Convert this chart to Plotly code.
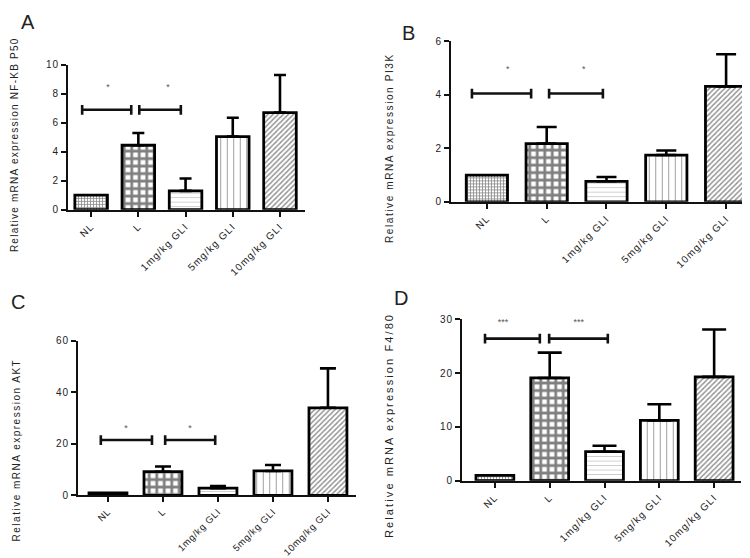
import plotly.graph_objects as go

W, H = 750, 558

categories = ["NL", "L", "1mg/kg GLI", "5mg/kg GLI", "10mg/kg GLI"]

# Panel A: NF-KB P50
a_mean = [1.0, 4.45, 1.3, 5.05, 6.7]
a_top = [1.0, 5.3, 2.15, 6.35, 9.3]
# Panel B: PI3K
b_mean = [1.0, 2.18, 0.77, 1.75, 4.32]
b_top = [1.0, 2.8, 0.93, 1.92, 5.52]
# Panel C: AKT
c_mean = [1.0, 9.2, 2.8, 9.5, 34.0]
c_top = [1.0, 11.2, 3.6, 11.8, 49.3]
# Panel D: F4/80
d_mean = [1.0, 19.1, 5.4, 11.2, 19.3]
d_top = [1.0, 23.8, 6.5, 14.2, 28.1]

# significance brackets: (x_start, x_end, y_level, star_x, star_y, label)
a_sig = [(-0.19, 0.85, 6.9, 0.36, 8.4, "*"), (1.02, 1.9, 6.9, 1.63, 8.4, "*")]
b_sig = [(-0.25, 0.74, 4.05, 0.35, 4.95, "*"), (1.04, 1.94, 4.05, 1.62, 4.95, "*")]
c_sig = [(-0.13, 0.8, 21.5, 0.33, 25.9, "*"), (1.04, 1.95, 21.5, 1.49, 25.9, "*")]
d_sig = [(-0.18, 0.82, 26.4, 0.15, 29.4, "***"), (0.99, 2.06, 26.4, 1.53, 29.4, "***")]

y_titles = ["Relative mRNA expression NF-KB P50", "Relative mRNA expression PI3K",
            "Relative mRNA expression AKT", "Relative mRNA expression F4/80"]
panel_letters = ["A", "B", "C", "D"]

y_ranges = [[0, 10], [0, 6], [0, 60], [0, 30]]
y_dtick = [2, 2, 20, 10]

# layout geometry (pixels)
px_x = [(60, 297), (443, 748), (70, 348), (454, 733)]
px_y = [(200, 52), (192, 28), (492, 334), (477, 312)]
x_ranges = [[-0.49, 4.53], [-0.6, 4.5], [-0.545, 4.51], [-0.6, 4.49]]
cap_w = [6, 10, 8, 12]
letter_pos = [(20, 8), (401, 19), (10, 294), (393, 290)]
ytitle_pos = [(6, 134), (381, 137), (8, 446), (381, 421)]
ytitle_font = [10, 10, 10, 11]
ytitle_ls = [1.25, 1.6, 1.5, 2.1]
xtick_font = [10, 10, 9.5, 10]
xtick_ls = [1.1, 1.1, 0.7, 1.1]

patterns = [
    dict(shape="+", size=3, solidity=0.5, fgcolor="#222", bgcolor="white"),
    dict(shape="+", size=7.5, solidity=0.6, fgcolor="black", bgcolor="white"),
    dict(shape="-", size=4.5, solidity=0.15, fgcolor="#777", bgcolor="white"),
    dict(shape="|", size=6.5, solidity=0.15, fgcolor="#333", bgcolor="white"),
    dict(shape="/", size=3.6, solidity=0.38, fgcolor="#222", bgcolor="white"),
]

means = [a_mean, b_mean, c_mean, d_mean]
tops = [a_top, b_top, c_top, d_top]
sigs = [a_sig, b_sig, c_sig, d_sig]


def spaced(t, ls):
    return f'<span style="letter-spacing:{ls}px">{t}</span>'


fig = go.Figure()
annotations = []
FONT = "Liberation Sans, Arial, sans-serif"

for p in range(4):
    xa = "x" if p == 0 else f"x{p+1}"
    ya = "y" if p == 0 else f"y{p+1}"
    mean = means[p]
    top = tops[p]
    errs = [t - m for t, m in zip(top, mean)]
    for i, cat in enumerate(categories):
        fig.add_trace(go.Bar(
            x=[i], y=[mean[i]], width=0.69,
            marker=dict(color="white", line=dict(color="black", width=2.8),
                        pattern=patterns[i]),
            error_y=dict(type="data", symmetric=False, array=[errs[i]], arrayminus=[0],
                         visible=errs[i] > 0, color="black", thickness=2.6, width=cap_w[p]),
            xaxis=xa, yaxis=ya, showlegend=False, hoverinfo="skip"))
    # significance brackets
    y0, y1 = y_ranges[p]
    cap = (y1 - y0) * 5.0 / (px_y[p][0] - px_y[p][1])
    for (xs, xe, yl, sx, sy, lab) in sigs[p]:
        fig.add_trace(go.Scatter(
            x=[xs, xs, None, xs, xe, None, xe, xe],
            y=[yl - cap, yl + cap, None, yl, yl, None, yl - cap, yl + cap],
            mode="lines", line=dict(color="#111", width=2.6),
            xaxis=xa, yaxis=ya, showlegend=False, hoverinfo="skip", cliponaxis=False))
        fig.add_trace(go.Scatter(
            x=[sx], y=[sy], mode="text", text=[lab],
            textfont=dict(family=FONT, size=9, color="#555"),
            xaxis=xa, yaxis=ya, showlegend=False, hoverinfo="skip", cliponaxis=False))

    dom_x = [px_x[p][0] / W, px_x[p][1] / W]
    dom_y = [1 - px_y[p][0] / H, 1 - px_y[p][1] / H]
    axis_common = dict(showline=True, linecolor="#111", linewidth=2, ticks="outside",
                       ticklen=5, tickwidth=2, tickcolor="#111", showgrid=False,
                       zeroline=False)
    yvals = list(range(y_ranges[p][0], y_ranges[p][1] + 1, y_dtick[p]))
    xkey = "xaxis" if p == 0 else f"xaxis{p+1}"
    ykey = "yaxis" if p == 0 else f"yaxis{p+1}"
    fig.update_layout(**{
        xkey: dict(domain=dom_x, range=x_ranges[p], anchor=ya, tickmode="array",
                   tickvals=list(range(len(categories))),
                   ticktext=[spaced(c, xtick_ls[p]) for c in categories],
                   tickangle=-45,
                   tickfont=dict(family=FONT, size=xtick_font[p], color="#222"),
                   **axis_common),
        ykey: dict(domain=dom_y, range=y_ranges[p], anchor=xa, tickmode="array",
                   tickvals=yvals, ticktext=[spaced(str(v), 1) for v in yvals],
                   tickfont=dict(family=FONT, size=10, color="#222"),
                   **axis_common),
    })
    lx, ly = letter_pos[p]
    annotations.append(dict(x=lx / W, y=1 - ly / H, xref="paper", yref="paper",
                            text=panel_letters[p], showarrow=False,
                            font=dict(family=FONT, size=20, color="#222"),
                            xanchor="center", yanchor="middle"))
    tx, ty = ytitle_pos[p]
    annotations.append(dict(x=tx / W, y=1 - ty / H, xref="paper", yref="paper",
                            text=spaced(y_titles[p], ytitle_ls[p]), showarrow=False,
                            textangle=-90,
                            font=dict(family=FONT, size=ytitle_font[p], color="#222"),
                            xanchor="center", yanchor="middle"))

fig.update_layout(width=W, height=H, margin=dict(l=0, r=0, t=0, b=0),
                  paper_bgcolor="white", plot_bgcolor="white",
                  barmode="overlay", annotations=annotations)

fig.write_html("out.html")
